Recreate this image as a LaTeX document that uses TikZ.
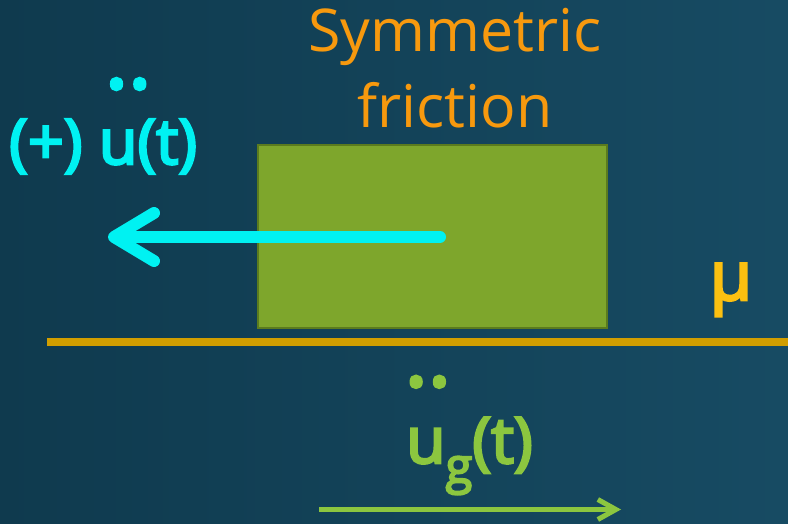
\documentclass[tikz,border=0pt]{standalone}
\usepackage{fontspec}
\setmainfont{Open Sans}
\newfontfamily\frsemi[FakeBold=4]{Open Sans}
\usetikzlibrary{positioning,arrows.meta}
\definecolor{frfundoesq}{HTML}{0F3A4E}
\definecolor{frfundodir}{HTML}{174B63}
\definecolor{frbloco}{HTML}{7EA62C}
\definecolor{frblocoborda}{HTML}{5B7B1E}
\definecolor{frciano}{HTML}{00F2F2}
\definecolor{frverde}{HTML}{8CC63F}
\definecolor{frlaranja}{HTML}{F7990E}
\definecolor{frouro}{HTML}{FCC010}
\definecolor{frsolo}{HTML}{D19E00}
% pontos do ponto duplo, um pouco acima da letra
\newcommand{\pontosacima}[2]{\leavevmode\ooalign{#2\cr\hidewidth\kern#1\raisebox{1.2em}{\fontsize{84}{84}\selectfont.\kern1pt.}\hidewidth\cr}}
\tikzset{
  frtitulo/.style={text=frlaranja, align=center, inner sep=0pt,
                   font=\fontsize{59}{76}\selectfont},
  frrotciano/.style={text=frciano, inner sep=0pt, font=\fontsize{63}{63}\frsemi},
  frrotverde/.style={text=frverde, inner sep=0pt, font=\fontsize{64}{64}\frsemi},
  frsetaciano/.style={-{Straight Barb[length=40pt, width=48pt, line cap=round, line join=round]},
                      line width=12pt, line cap=round, draw=frciano},
  frsetaverde/.style={-{Straight Barb[length=18pt, width=20pt]}, line width=5pt, draw=frverde},
}
\begin{document}
\begin{tikzpicture}[x=1pt, y=-1pt]
    % fundo
    \shade[left color=frfundoesq, right color=frfundodir] (0,0) rectangle (788,524);
    \useasboundingbox (0,0) rectangle (788,524);
    % titulo
    \node[frtitulo, anchor=base] (titulo) at (455,128) {Symmetric\\friction};
    % bloco e superficie
    \node[draw=frblocoborda, line width=2pt, fill=frbloco, inner sep=0pt,
          minimum width=349pt, minimum height=183pt] (bloco) at (432.5,236.5) {};
    \coordinate (soloesq) at (47,341.5);
    \coordinate (solodir) at (788,341.5);
    \draw[draw=frsolo, line width=8pt] (soloesq) -- (solodir);
    \node[text=frouro, inner sep=0pt, anchor=base, font=\fontsize{68}{68}\frsemi] (mu) at (731,300) {µ};
    % aceleracao do bloco
    \coordinate (inicioseta) at (440,237);
    \coordinate (fimseta) at (108,237);
    \draw[frsetaciano] (inicioseta) -- (fimseta);
    \node[frrotciano, anchor=base west] (acelbloco) at (9,164) {(+)~\pontosacima{20pt}{u}(t)};
    % aceleracao do solo
    \node[frrotverde, anchor=base west] (acelsolo) at (406,463)
        {\pontosacima{4pt}{u}\raisebox{-20pt}{\fontsize{49}{49}\selectfont g}(t)};
    \coordinate (inicioverde) at (319,509.5);
    \coordinate (fimverde) at (621,509.5);
    \draw[frsetaverde] (inicioverde) -- (fimverde);
\end{tikzpicture}
\end{document}
